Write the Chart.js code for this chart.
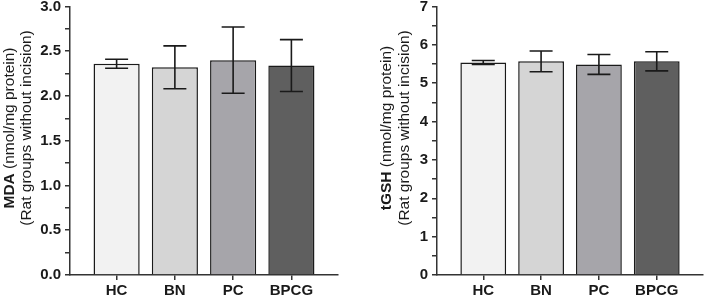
<!DOCTYPE html>
<html>
<head>
<meta charset="utf-8">
<script src="https://cdn.jsdelivr.net/npm/chart.js@4.4.0/dist/chart.umd.min.js"></script>
<style>
  html, body { margin: 0; padding: 0; background: #fff; }
  .panel { position: absolute; top: 0; width: 353px; height: 299px; }
</style>
</head>
<body>
<div class="panel" style="left:0"><canvas id="mda"></canvas></div>
<div class="panel" style="left:353px"><canvas id="tgsh"></canvas></div>
<script>
// groups and measured values (mean and error bar half-length)
var categories = ['HC', 'BN', 'PC', 'BPCG'];
var barColors = ['#f2f2f2', '#d5d5d5', '#a6a5aa', '#5f5f5f'];

var mdaMean = [2.36, 2.32, 2.40, 2.34];
var mdaErr = [0.05, 0.24, 0.37, 0.29];

var tgshMean = [5.54, 5.57, 5.49, 5.57];
var tgshErr = [0.05, 0.27, 0.26, 0.25];

var FONT = '"Liberation Sans", Arial, sans-serif';
var INK = '#1a1a1a';

// error bars, drawn through the chart's own scales
var errorBars = {
    id: 'errorBars',
    afterDatasetsDraw: function (chart, args, opts) {
        var ctx = chart.ctx, xs = chart.scales.x, ys = chart.scales.y;
        var means = opts.means, errs = opts.errs;
        ctx.save();
        ctx.strokeStyle = INK;
        ctx.lineWidth = 1.6;
        for (var i = 0; i < means.length; i++) {
            var x = xs.getPixelForValue(i);
            var yTop = ys.getPixelForValue(means[i] + errs[i]);
            var yBot = ys.getPixelForValue(means[i] - errs[i]);
            ctx.beginPath();
            ctx.moveTo(x, yTop); ctx.lineTo(x, yBot);
            ctx.moveTo(x - 11.5, yTop); ctx.lineTo(x + 11.5, yTop);
            ctx.moveTo(x - 11.5, yBot); ctx.lineTo(x + 11.5, yBot);
            ctx.stroke();
        }
        ctx.restore();
    }
};

// two-line rotated y title with a bold lead word
var yTitle = {
    id: 'yTitle',
    afterDraw: function (chart, args, opts) {
        var ctx = chart.ctx;
        var cy = 128;
        ctx.save();
        ctx.fillStyle = INK;
        ctx.textBaseline = 'middle';
        // line 1
        ctx.save();
        ctx.translate(opts.x1, cy);
        ctx.rotate(-Math.PI / 2);
        ctx.font = 'bold 15.5px ' + FONT;
        var wb = ctx.measureText(opts.bold).width;
        ctx.font = '15.5px ' + FONT;
        var wn = ctx.measureText(opts.rest).width;
        var start = -(wb + wn) / 2;
        ctx.textAlign = 'left';
        ctx.font = 'bold 15.5px ' + FONT;
        ctx.fillText(opts.bold, start, 0);
        ctx.font = '15.5px ' + FONT;
        ctx.fillText(opts.rest, start + wb, 0);
        ctx.restore();
        // line 2
        ctx.save();
        ctx.translate(opts.x2, cy);
        ctx.rotate(-Math.PI / 2);
        ctx.textAlign = 'center';
        ctx.font = '15.5px ' + FONT;
        ctx.fillText(opts.line2, 0, 0);
        ctx.restore();
        ctx.restore();
    }
};

function makeChart(id, means, errs, yMax, yStep, majorStep, decimals, axisWidth, padRight, title) {
    var points = means.map(function (v, i) { return {x: i, y: v}; });
    return new Chart(document.getElementById(id), {
        type: 'bar',
        data: {
            datasets: [{
                data: points,
                backgroundColor: barColors,
                borderColor: INK,
                borderWidth: 1.5,
                borderSkipped: 'start',
                barPercentage: 0.99,
                categoryPercentage: 0.8
            }]
        },
        options: {
            responsive: true,
            maintainAspectRatio: false,
            animation: false,
            layout: { padding: { top: 0, right: padRight, bottom: 0, left: 0 } },
            plugins: {
                legend: { display: false },
                tooltip: { enabled: false },
                errorBars: { means: means, errs: errs },
                yTitle: title
            },
            scales: {
                x: {
                    type: 'linear',
                    offset: false,
                    min: -0.8,
                    max: 3.8,
                    afterBuildTicks: function (scale) {
                        scale.ticks = categories.map(function (c, i) { return {value: i}; });
                    },
                    afterFit: function (scale) { scale.height = 24; },
                    border: { display: true, color: '#333', width: 1.5 },
                    grid: { offset: false, drawOnChartArea: false, drawTicks: true, tickLength: 5, color: '#333', lineWidth: 1.5 },
                    ticks: {
                        autoSkip: false,
                        maxRotation: 0,
                        padding: 3,
                        color: INK,
                        font: { family: FONT, size: 15, weight: 'bold', lineHeight: 1 },
                        callback: function (v) { return categories[v]; }
                    }
                },
                y: {
                    min: 0,
                    max: yMax,
                    afterFit: function (scale) { scale.width = axisWidth; },
                    border: { display: true, color: '#333', width: 1.5 },
                    grid: { drawOnChartArea: false, drawTicks: true, tickLength: 5, color: '#333', lineWidth: 1.5 },
                    ticks: {
                        stepSize: yStep,
                        autoSkip: false,
                        padding: 4,
                        color: INK,
                        // small line height keeps the top label from pushing the plot down
                        font: { family: FONT, size: 15, weight: 'bold', lineHeight: 0.33 },
                        callback: function (v) {
                            var k = v / majorStep;
                            if (Math.abs(k - Math.round(k)) > 1e-6) return '';
                            return v.toFixed(decimals);
                        }
                    }
                }
            }
        },
        plugins: [errorBars, yTitle]
    });
}

makeChart('mda', mdaMean, mdaErr, 3, 0.25, 0.5, 1, 70, 15,
    { x1: 10, x2: 27, bold: 'MDA', rest: ' (nmol/mg protein)', line2: '(Rat groups without incision)' });
makeChart('tgsh', tgshMean, tgshErr, 7, 0.5, 1, 0, 84, 3,
    { x1: 34, x2: 52, bold: 'tGSH', rest: ' (nmol/mg protein)', line2: '(Rat groups without incision)' });
</script>
</body>
</html>
